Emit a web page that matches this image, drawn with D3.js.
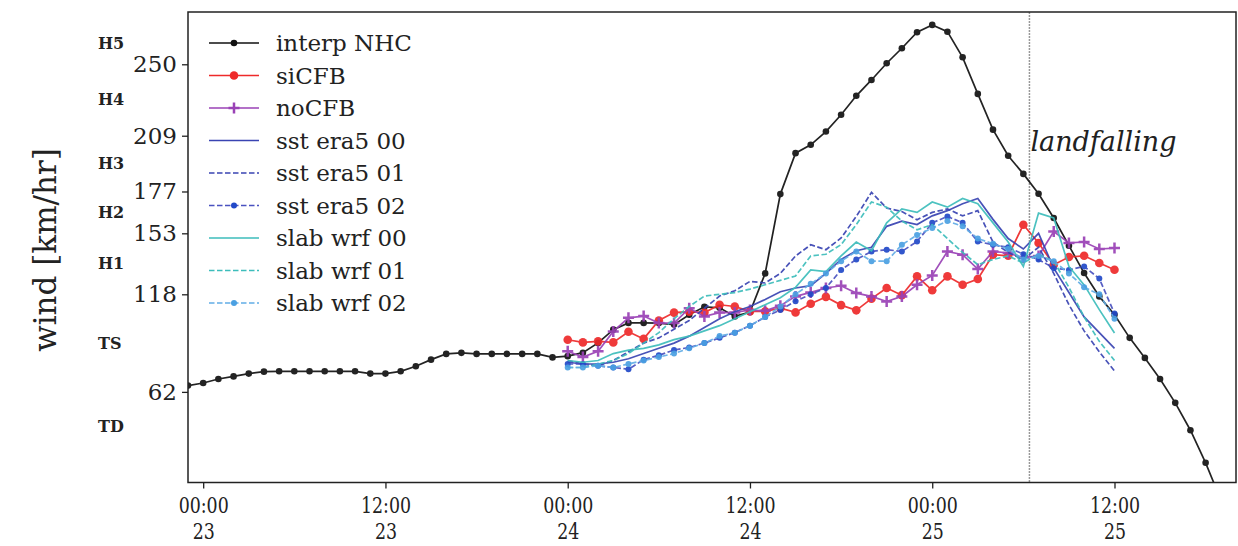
<!DOCTYPE html>
<html>
<head>
<meta charset="utf-8">
<script src="https://cdn.jsdelivr.net/npm/d3@7"></script>
<style>
body { margin: 0; background: #fff; }
text { font-family: "DejaVu Serif", serif; fill: #222; }
</style>
</head>
<body>
<svg id="chart" width="1238" height="546"></svg>
<script>
// hours since 00:00 on the 23rd
var nhcHours = [-1, 0, 1, 2, 3, 4, 5, 6, 7, 8, 9, 10, 11, 12, 13, 14, 15, 16, 17, 18, 19,
    20, 21, 22, 23, 24, 25, 26, 27, 28, 29, 30, 31, 32, 33, 34, 35, 36, 37, 38, 39, 40,
    41, 42, 43, 44, 45, 46, 47, 48, 49, 50, 51, 52, 53, 54, 55, 56, 57, 58, 59, 60, 61,
    62, 63, 64, 65, 66, 67];
var nhc = [65.6, 67.1, 69.4, 70.9, 72.5, 73.6, 73.8, 73.8, 73.8, 73.8, 73.8, 73.8, 72.5,
    72.5, 73.8, 76.7, 80.5, 83.8, 84.4, 83.8, 83.8, 83.8, 83.8, 83.8, 81.8, 82.5, 84.5,
    90.1, 97.7, 101.6, 101.6, 101.5, 100.6, 106.3, 110.8, 110.3, 105.3, 107.8, 130, 175.5,
    199, 203.8, 211.4, 221, 231.9, 241, 250.6, 259.2, 268.4, 272.6, 268.7, 254, 233, 212.5,
    197.5, 187.1, 175.7, 161.8, 145.9, 130.2, 116.8, 106.3, 93, 81.5, 69.4, 55.7, 40, 21.3, 0];

var runHours = [24, 25, 26, 27, 28, 29, 30, 31, 32, 33, 34, 35, 36, 37, 38, 39, 40, 41,
    42, 43, 44, 45, 46, 47, 48, 49, 50, 51, 52, 53, 54, 55, 56, 57, 58, 59, 60];
var siCFB = [91.9, 90.4, 91, 90.4, 96.5, 92.4, 103, 107.5, 108, 107.5, 112, 111, 108.2,
    108.2, 110, 107.6, 112.6, 116.5, 111.8, 108.8, 115.5, 121.6, 117.5, 128.3, 120.3, 128.3,
    123.5, 126.8, 140.7, 140.1, 157.9, 147.4, 135, 139.4, 140.1, 136, 132.1];
var noCFB = [85.3, 82, 85.3, 96.7, 104.5, 105.5, 101.5, 101.5, 110, 105.3, 107.5, 107.6,
    109, 108.5, 111.5, 116.8, 119.1, 121.6, 122.9, 118.7, 116.8, 113.9, 116.8, 123.5, 128.8,
    142.6, 140.7, 132.5, 142.6, 141.7, 139, 140, 154, 147.5, 148, 144, 144.5];
var sstEra5_00 = [79, 78, 78, 79, 81, 84, 87, 90, 94, 99, 104, 108, 111, 115, 119.5, 121.6,
    123, 130, 138, 143, 145, 157, 160, 158, 163, 166, 170, 173, 161, 150, 144, 153, 133,
    119, 105, 96, 87];
var sstEra5_01 = [80, 78, 77, 80, 85, 90, 93, 98, 103, 110, 117, 120, 125.4, 124.5, 130,
    140, 146.4, 143.6, 150.3, 162.7, 176.5, 167.5, 165.5, 160.8, 165, 167, 163, 166, 148,
    142, 138, 145, 130, 112, 97, 85, 74];
var sstEra5_02 = [78, 78, 77, 76, 75, 80.5, 83, 86, 87.5, 90, 93, 96, 100, 105, 109, 114,
    118, 121.6, 132, 138, 142.6, 143.6, 142.6, 148.3, 159, 162.7, 159, 148.3, 146.4, 145,
    141, 138, 133, 132, 134, 127, 107];
var slabWrf_00 = [80, 79, 80, 84, 86, 87, 89, 92, 94, 97, 100, 104, 108, 112, 116, 122,
    132, 131, 140, 148, 143, 159, 167, 165, 171, 168, 173, 170, 159, 148, 134, 164.6, 161.8,
    134, 123.4, 109.2, 95.8];
var slabWrf_01 = [76, 76, 78, 80, 84, 90, 96, 104, 111, 117, 118, 119, 121, 123.5, 126,
    128.5, 140, 141, 146.5, 158, 171, 168, 160, 155, 158, 150, 142, 135, 138, 140, 136, 141,
    137, 122, 105, 91, 80];
var slabWrf_02 = [76, 76, 77, 76, 78, 80, 82, 84, 87, 90, 94, 96, 100, 105, 111, 118, 124,
    130, 137, 142.6, 137, 137, 146.4, 152, 156, 160, 157, 150, 147, 144, 138, 140, 137, 130,
    122, 118, 104];

var yTicks = [62, 118, 153, 177, 209, 250];
var xTicks = [0, 12, 24, 36, 48, 60];
var xTickTime = ["00:00", "12:00", "00:00", "12:00", "00:00", "12:00"];
var xTickDay = ["23", "23", "24", "24", "25", "25"];
var categories = ["H5", "H4", "H3", "H2", "H1", "TS", "TD"];
var categoryWind = [262, 230, 193, 165, 135.5, 90, 42];
var landfallHour = 54.4;

var series = [
    {name: "interp NHC", x: nhcHours, y: nhc, color: "#111", dash: null, marker: "dot", r: 3.3, mcolor: "#111"},
    {name: "siCFB", x: runHours, y: siCFB, color: "#ee2a2a", dash: null, marker: "dot", r: 4.3, mcolor: "#ee2a2a"},
    {name: "noCFB", x: runHours, y: noCFB, color: "#9a42b6", dash: null, marker: "plus", r: 5.5, mcolor: "#9a42b6"},
    {name: "sst era5 00", x: runHours, y: sstEra5_00, color: "#3a44b2", dash: null, marker: null},
    {name: "sst era5 01", x: runHours, y: sstEra5_01, color: "#3a44b2", dash: "5.5,2.5", marker: null},
    {name: "sst era5 02", x: runHours, y: sstEra5_02, color: "#4a52c0", dash: "5.5,2.5", marker: "dot", r: 3, mcolor: "#2149c8"},
    {name: "slab wrf 00", x: runHours, y: slabWrf_00, color: "#3dbdbb", dash: null, marker: null},
    {name: "slab wrf 01", x: runHours, y: slabWrf_01, color: "#3dbdbb", dash: "5.5,2.5", marker: null},
    {name: "slab wrf 02", x: runHours, y: slabWrf_02, color: "#62ade6", dash: "5.5,2.5", marker: "dot", r: 3, mcolor: "#4aa0e2"}
];

var svg = d3.select("#chart");
var plotLeft = 188, plotRight = 1236, plotTop = 12, plotBottom = 482.5;

var x = d3.scaleLinear().domain([-1, 68]).range([plotLeft, plotRight]);
var y = d3.scaleLinear().domain([10, 280]).range([plotBottom, plotTop]);

svg.append("defs").append("clipPath").attr("id", "plot")
    .append("rect").attr("x", plotLeft).attr("y", plotTop)
    .attr("width", plotRight - plotLeft).attr("height", plotBottom - plotTop);

// landfall marker
svg.append("line")
    .attr("x1", x(landfallHour)).attr("x2", x(landfallHour))
    .attr("y1", plotTop).attr("y2", plotBottom)
    .attr("stroke", "#999").attr("stroke-width", 1.5)
    .attr("stroke-dasharray", "2,1");

svg.append("text")
    .attr("x", x(landfallHour) + 1).attr("y", 151)
    .style("font-style", "italic").style("font-size", "27px")
    .text("landfalling");

var plot = svg.append("g").attr("clip-path", "url(#plot)");

function drawMarkers(g, s, pts) {
    if (s.marker === "dot") {
        g.selectAll("circle").data(pts).enter().append("circle")
            .attr("cx", function(d) { return d[0]; })
            .attr("cy", function(d) { return d[1]; })
            .attr("r", s.r).attr("fill", s.mcolor);
    } else if (s.marker === "plus") {
        g.selectAll("path.plus").data(pts).enter().append("path")
            .attr("class", "plus")
            .attr("d", function(d) {
                return "M" + (d[0] - s.r) + "," + d[1] + "h" + (2 * s.r) +
                       "M" + d[0] + "," + (d[1] - s.r) + "v" + (2 * s.r);
            })
            .attr("stroke", s.mcolor).attr("stroke-width", 2.5);
    }
}

series.forEach(function(s) {
    var pts = s.x.map(function(h, i) { return [x(h), y(s.y[i])]; });
    var g = plot.append("g").attr("opacity", 0.92);
    g.append("path")
        .attr("d", d3.line()(pts))
        .attr("fill", "none")
        .attr("stroke", s.color)
        .attr("stroke-width", 1.7)
        .attr("stroke-dasharray", s.dash);
    drawMarkers(g, s, pts);
});

// frame
svg.append("rect")
    .attr("x", plotLeft).attr("y", plotTop)
    .attr("width", plotRight - plotLeft).attr("height", plotBottom - plotTop)
    .attr("fill", "none").attr("stroke", "#222").attr("stroke-width", 1.5);

// y axis
var yAxis = svg.append("g")
    .attr("transform", "translate(" + plotLeft + ",0)")
    .call(d3.axisLeft(y).tickValues(yTicks).tickSize(6).tickPadding(5).tickFormat(d3.format("d")));
yAxis.select(".domain").remove();
yAxis.selectAll("line").attr("stroke", "#222").attr("stroke-width", 1.3);
yAxis.selectAll("text").style("font-size", "23px").attr("fill", "#222")
    .style("font-family", "DejaVu Serif");

// x axis, two-line labels squeezed like the original
var xAxis = svg.append("g")
    .attr("transform", "translate(0," + plotBottom + ")")
    .call(d3.axisBottom(x).tickValues(xTicks).tickSize(6).tickFormat(""));
xAxis.select(".domain").remove();
xAxis.selectAll("line").attr("stroke", "#222").attr("stroke-width", 1.3);
xAxis.selectAll(".tick").each(function(d, i) {
    var t = d3.select(this).append("g").attr("transform", "scale(0.79,1)");
    t.append("text").attr("x", 0).attr("y", 31)
        .attr("text-anchor", "middle").style("font-size", "22px")
        .text(xTickTime[i]);
    t.append("text").attr("x", 0).attr("y", 57)
        .attr("text-anchor", "middle").style("font-size", "22px")
        .text(xTickDay[i]);
});

// category labels
svg.append("g").selectAll("text").data(categories).enter().append("text")
    .attr("x", 98)
    .attr("y", function(d, i) { return y(categoryWind[i]); })
    .attr("dy", "0.35em")
    .style("font-size", "16px").style("font-weight", "bold")
    .text(function(d) { return d; });

// y label
svg.append("text")
    .attr("transform", "translate(56,250) rotate(-90)")
    .attr("text-anchor", "middle")
    .style("font-size", "31px")
    .text("wind [km/hr]");

// legend
var legend = svg.append("g").attr("transform", "translate(209,43)");
series.forEach(function(s, i) {
    var row = legend.append("g").attr("transform", "translate(0," + (i * 32.5) + ")");
    row.append("line").attr("x1", 0).attr("x2", 50).attr("y1", 0).attr("y2", 0)
        .attr("stroke", s.color).attr("stroke-width", 1.7)
        .attr("stroke-dasharray", s.dash);
    drawMarkers(row, s, [[25, 0]]);
    row.append("text").attr("x", 67).attr("y", 0).attr("dy", "0.35em")
        .style("font-size", "23px").text(s.name);
});
</script>
</body>
</html>
